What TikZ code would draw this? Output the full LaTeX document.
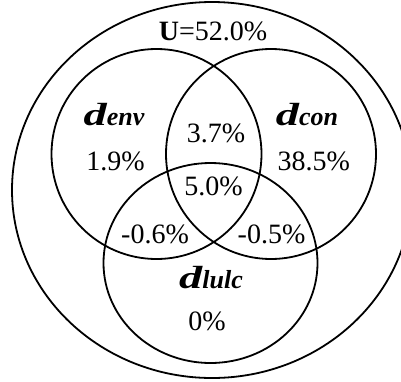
\documentclass[tikz,border=0pt]{standalone}
\usepackage{fontspec}
\setmainfont{Liberation Serif}
\newcommand\setname[1]{\scalebox{1.45}[1]{\fontsize{32}{36}\selectfont\bfseries\itshape d}{\fontsize{26}{30}\selectfont\bfseries\itshape #1}}
\tikzset{
  ring/.style={line width=1.8pt},
  val/.style={font=\fontsize{28}{32}\selectfont, anchor=base, inner sep=0pt},
}
\begin{document}
\begin{tikzpicture}[x=1pt,y=-1pt]
\useasboundingbox (0,0) rectangle (401,381);
\clip (0,0) rectangle (401,381);
% sets
\draw[ring] (212,190) ellipse [x radius=200, y radius=188];
\draw[ring] (156.5,154) circle [radius=105];
\draw[ring] (271,154) circle [radius=105];
\draw[ring] (210.5,263) ellipse [x radius=107, y radius=100];
% labels
\node[val] (u) at (213,40) {\textbf{U}=52.0\%};
\node[val] (denv) at (114,125) {\setname{env}};
\node[val] (penv) at (115.5,170) {1.9\%};
\node[val] (pec) at (216,142) {3.7\%};
\node[val] (dcon) at (307,125) {\setname{con}};
\node[val] (pcon) at (313.7,170) {38.5\%};
\node[val] (pall) at (213.5,195) {5.0\%};
\node[val] (pel) at (155,243) {-0.6\%};
\node[val] (pcl) at (271.5,243) {-0.5\%};
\node[val] (dlulc) at (211,288) {\setname{lulc}};
\node[val] (plulc) at (207,330) {0\%};
\end{tikzpicture}
\end{document}
